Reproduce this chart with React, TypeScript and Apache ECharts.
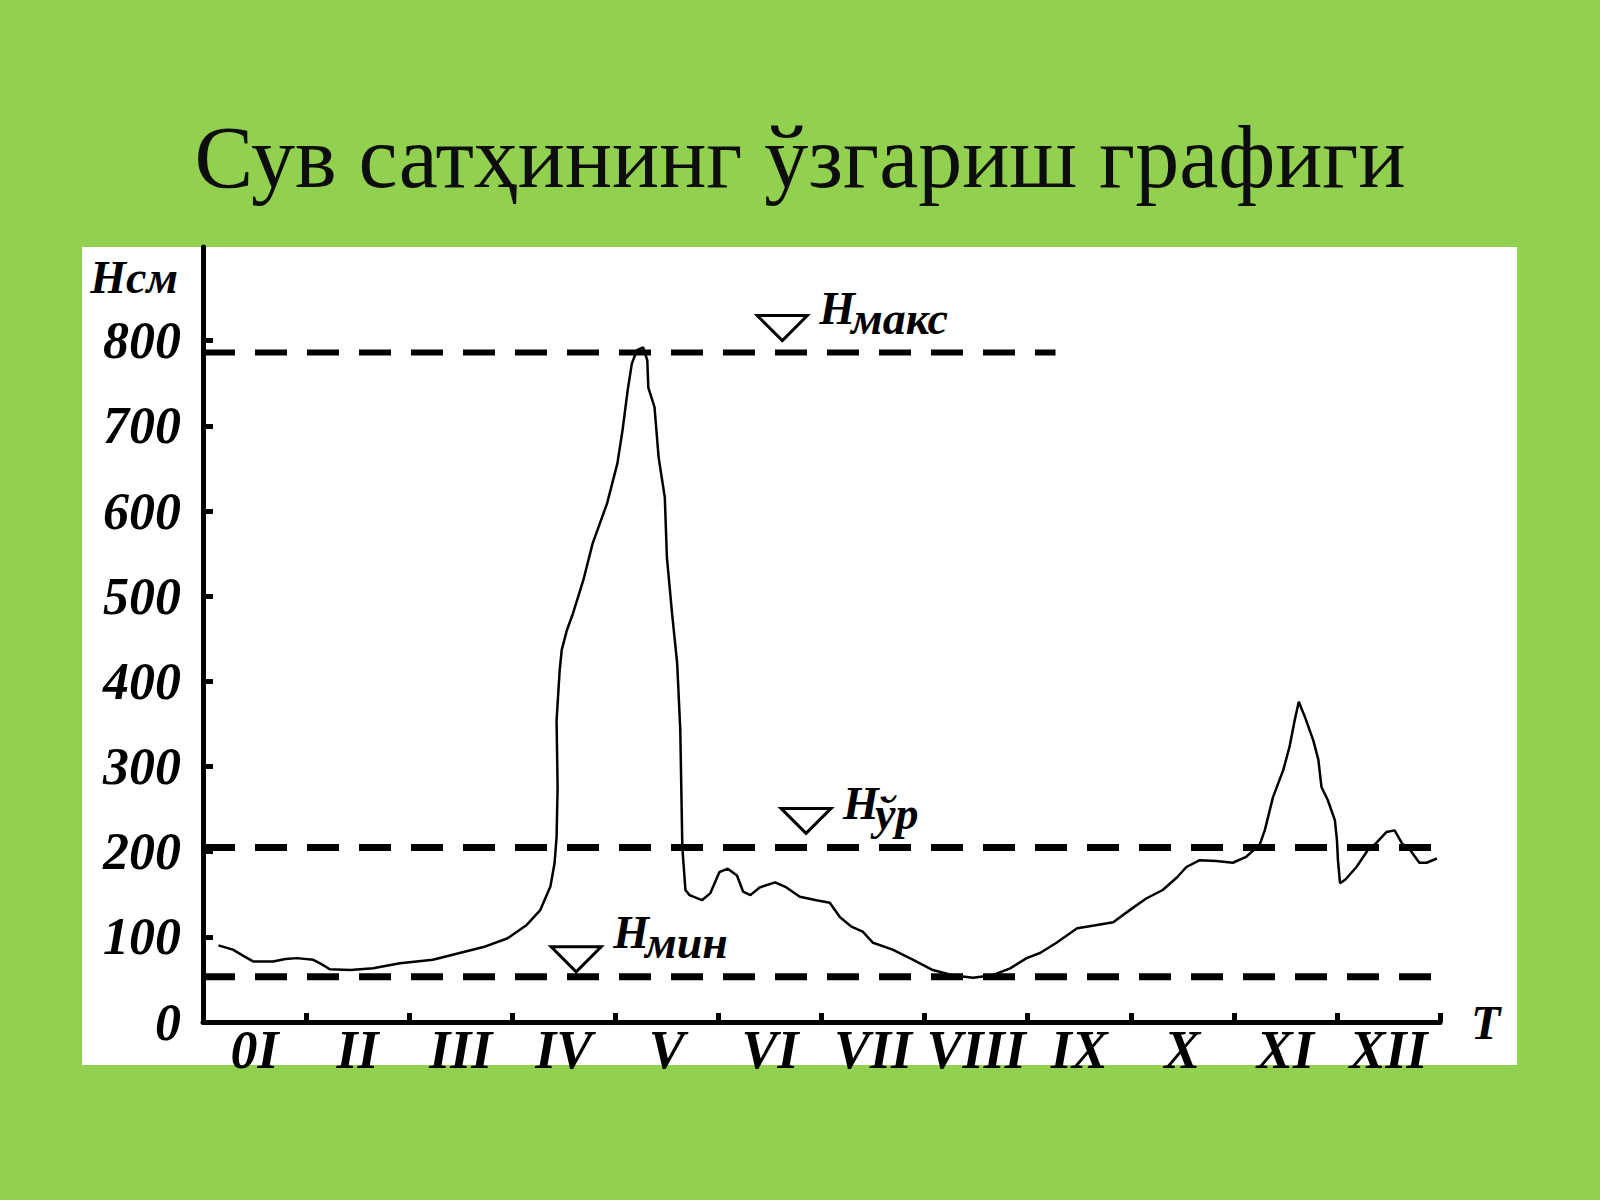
import { useEffect, useRef } from "react";
import * as echarts from "echarts";

const TITLE = "Сув сатҳининг ўзгариш графиги";
const MONTH_LABELS = ["0I", "II", "III", "IV", "V", "VI", "VII", "VIII", "IX", "X", "XI", "XII"];
const Y_TICKS = [0, 100, 200, 300, 400, 500, 600, 700, 800];

// time in months from 1 January, water level in cm
const MONTHS = [
    0.15, 0.29, 0.40, 0.49, 0.68, 0.80, 0.91, 1.07, 1.15, 1.23, 1.43, 1.65, 1.91, 2.23, 2.49, 2.72, 2.95,
    3.14, 3.27, 3.37, 3.41, 3.43, 3.44, 3.43, 3.46, 3.48, 3.53, 3.59, 3.69, 3.78, 3.92, 4.02, 4.07, 4.12,
    4.16, 4.21, 4.27, 4.31, 4.32, 4.38, 4.42, 4.48, 4.50, 4.55, 4.60, 4.63, 4.65, 4.68, 4.72, 4.84, 4.92,
    5.01, 5.09, 5.18, 5.24, 5.31, 5.40, 5.55, 5.66, 5.79, 5.95, 6.08, 6.18, 6.29, 6.40, 6.50, 6.69, 6.89,
    7.08, 7.27, 7.47, 7.66, 7.83, 7.99, 8.12, 8.28, 8.48, 8.63, 8.83, 9.02, 9.15, 9.31, 9.45, 9.54, 9.67,
    9.83, 9.99, 10.12, 10.25, 10.30, 10.38, 10.48, 10.54, 10.59, 10.63, 10.69, 10.77, 10.82, 10.85, 10.91,
    10.98, 11.00, 11.01, 11.03, 11.08, 11.19, 11.30, 11.38, 11.48, 11.56, 11.63, 11.71, 11.80, 11.87, 11.97
];
const LEVELS = [
    90, 85, 77, 71, 71, 74, 75, 73, 68, 62, 61, 63, 69, 73, 81, 88, 98,
    114, 131, 159, 186, 217, 276, 354, 413, 437, 460, 480, 519, 562, 609, 656, 695, 742,
    773, 789, 792, 777, 745, 722, 663, 616, 546, 480, 421, 343, 205, 155, 149, 143, 151,
    176, 180, 172, 153, 149, 158, 164, 158, 147, 143, 140, 123, 112, 106, 93, 85, 73,
    61, 55, 52, 55, 63, 75, 81, 93, 110, 113, 117, 134, 145, 155, 170, 182, 190,
    189, 187, 194, 208, 225, 264, 296, 323, 354, 376, 358, 331, 308, 276, 261,
    237, 214, 190, 163, 167, 182, 202, 210, 223, 225, 210, 202, 187, 187, 192
];

// characteristic levels: max, mean, min
const LEVEL_SUBS = ["макс", "ўр", "мин"];
const LEVEL_VALUES = [786, 205, 53];
const LEVEL_ENDS = [8.27, 12.21, 12.21];
const MARKER_MONTHS = [5.62, 5.85, 3.62];

const SERIF = "'Liberation Serif', 'Times New Roman', serif";
const MARKER_GAPS = [12, 14, 5];
const LABEL_FONT = `italic bold 46px ${SERIF}`;

function buildOption(): echarts.EChartsCoreOption {
    const axisLineStyle = { color: "#000", width: 5 };
    const numFont = { fontFamily: SERIF, fontStyle: "italic" as const, fontWeight: "bold" as const, color: "#000" };
    return {
        animation: false,
        backgroundColor: "#92D050",
        title: {
            text: TITLE,
            left: "center",
            top: 108,
            textStyle: { fontFamily: SERIF, fontSize: 88, fontWeight: "normal", color: "#0d0d0d" }
        },
        grid: { left: 203, right: 160, top: 247, bottom: 178 },
        xAxis: [
            {
                type: "value",
                min: 0,
                max: 12,
                interval: 1,
                position: "bottom",
                axisLine: { show: true, lineStyle: axisLineStyle },
                axisTick: { show: true, inside: true, length: 9, lineStyle: axisLineStyle },
                axisLabel: { show: false },
                splitLine: { show: false },
                name: "Т",
                nameLocation: "end",
                nameGap: 31,
                nameTextStyle: { ...numFont, fontSize: 48, padding: [8, 0, 0, 0] }
            },
            {
                type: "category",
                data: MONTH_LABELS,
                position: "bottom",
                boundaryGap: true,
                axisLine: { show: false },
                axisTick: { show: false },
                axisLabel: { ...numFont, fontSize: 54, margin: 1, interval: 0, hideOverlap: false },
                splitLine: { show: false }
            }
        ],
        yAxis: {
            type: "value",
            min: 0,
            max: 910,
            interval: 100,
            axisLine: { show: true, lineStyle: axisLineStyle },
            axisTick: { show: true, inside: true, length: 10, customValues: Y_TICKS, lineStyle: axisLineStyle },
            axisLabel: { ...numFont, fontSize: 52, margin: 22, customValues: Y_TICKS, padding: [8, 0, 0, 0] },
            splitLine: { show: false },
            name: "Нсм",
            nameLocation: "end",
            nameGap: -30,
            nameTextStyle: { ...numFont, fontSize: 46, align: "right", verticalAlign: "middle", padding: [0, 25, 0, 0] }
        },
        series: [
            {
                type: "line",
                xAxisIndex: 0,
                data: MONTHS.map((m, i) => [m, LEVELS[i]]),
                symbol: "none",
                lineStyle: { color: "#000", width: 2.5 },
                z: 3
            },
            ...LEVEL_VALUES.map((v, i) => ({
                type: "line",
                xAxisIndex: 0,
                data: [[0, v], [LEVEL_ENDS[i], v]],
                symbol: "none",
                clip: false,
                silent: true,
                lineStyle: { color: "#000", width: i === 0 ? 6 : 7, type: [32, 20], cap: "butt" },
                z: 2
            }))
        ]
    };
}

function buildGraphic(chart: echarts.ECharts) {
    const els: object[] = [
        { type: "rect", z: -100, silent: true, shape: { x: 82, y: 247, width: 1435, height: 818 }, style: { fill: "#fff" } }
    ];
    LEVEL_VALUES.forEach((v, i) => {
        const [cx, ly] = chart.convertToPixel({ seriesIndex: 0 }, [MARKER_MONTHS[i], v]) as number[];
        const apex = ly - MARKER_GAPS[i];
        els.push({
            type: "polygon",
            z: 10,
            shape: { points: [[cx - 25, apex - 25], [cx + 25, apex - 25], [cx, apex]] },
            style: { fill: "#fff", stroke: "#000", lineWidth: 3 }
        });
        els.push({
            type: "text",
            z: 10,
            x: cx + 37,
            y: ly - 28 - 16,
            style: { text: "Н", font: LABEL_FONT, fill: "#000", textAlign: "left", textVerticalAlign: "middle" }
        });
        els.push({
            type: "text",
            z: 10,
            x: cx + 69,
            y: ly - 18 - 16,
            style: { text: LEVEL_SUBS[i], font: LABEL_FONT, fill: "#000", textAlign: "left", textVerticalAlign: "middle" }
        });
    });
    return els;
}

export default function App() {
    const ref = useRef<HTMLDivElement>(null);

    useEffect(() => {
        if (!ref.current) return;
        document.body.style.margin = "0";
        const chart = echarts.init(ref.current, undefined, { renderer: "svg" });
        chart.setOption(buildOption());
        chart.setOption({ graphic: buildGraphic(chart) });
        return () => chart.dispose();
    }, []);

    return <div ref={ref} style={{ width: 1600, height: 1200 }} />;
}
